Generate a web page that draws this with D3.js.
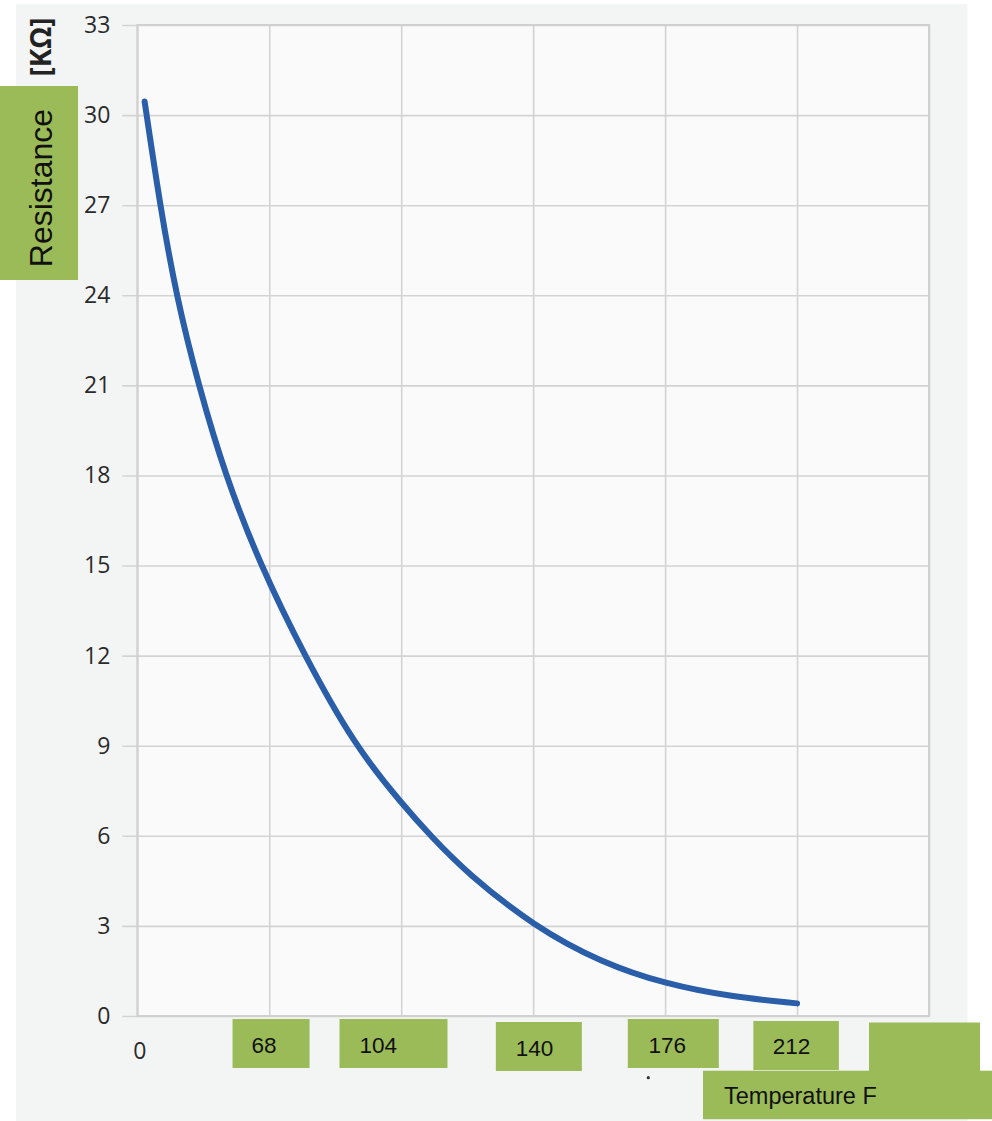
<!DOCTYPE html>
<html>
<head>
<meta charset="utf-8">
<script src="https://cdn.jsdelivr.net/npm/d3@7"></script>
<style>
  body { margin: 0; background: #ffffff; }
  svg { display: block; }
</style>
</head>
<body>
<svg id="drawing_region"></svg>
<script>
// thermistor curve (temperature in F, resistance in kOhm)
const temperatureF = [34.0, 38.2, 42.6, 48.7, 56.0, 65.6, 77.6, 91.3, 104.3, 112.0, 122.0, 140.3, 158.6, 176.2, 194.1, 212.0];
const resistance   = [30.45, 27.0, 24.0, 21.0, 18.0, 15.0, 12.0, 9.0, 7.05, 6.0, 4.75, 2.98, 1.78, 1.06, 0.64, 0.42];

const xTicks = [32, 68, 104, 140, 176, 212, 248];
const xBoxLabels = ["", "68", "104", "140", "176", "212", ""];
const yTicks = [0, 3, 6, 9, 12, 15, 18, 21, 24, 27, 30, 33];

const data = temperatureF.map((t, i) => ({ t: t, r: resistance[i] }));

const config = {
    width: 992,
    height: 1121,
    plot: { left: 137.3, right: 929, top: 25, bottom: 1016 }
};

const svg = d3.select('#drawing_region')
    .attr('width', config.width)
    .attr('height', config.height);

// panel background
svg.append('rect')
    .attr('x', 16).attr('y', 4)
    .attr('width', 951.5).attr('height', config.height - 4)
    .attr('fill', '#f3f5f5');

const p = config.plot;
svg.append('rect')
    .attr('x', p.left).attr('y', p.top)
    .attr('width', p.right - p.left).attr('height', p.bottom - p.top)
    .attr('fill', '#fafafa');

const xscale = d3.scaleLinear().domain([32, 248]).range([p.left, p.right]);
const yscale = d3.scaleLinear().domain([0, 33]).range([p.bottom, p.top]);

// y axis + horizontal grid
const yaxis = d3.axisLeft(yscale)
    .tickValues(yTicks)
    .tickSize(-(p.right - p.left + 15))
    .tickPadding(12);

const yaxis_group = svg.append('g')
    .attr('transform', `translate(${p.left - 15}, 0)`)
    .call(yaxis);
yaxis_group.select('.domain').remove();
yaxis_group.selectAll('line').attr('stroke', '#d3d3d3').attr('stroke-width', 1.6);
yaxis_group.selectAll('text')
    .attr('font-family', '"Open Sans", sans-serif')
    .attr('font-size', 23)
    .attr('fill', '#2a2a2a');

// x axis + vertical grid
const xaxis = d3.axisBottom(xscale)
    .tickValues(xTicks)
    .tickSize(-(p.bottom - p.top))
    .tickPadding(27)
    .tickFormat((d, i) => i === 0 ? '0' : '');

const xaxis_group = svg.append('g')
    .attr('transform', `translate(0, ${p.bottom})`)
    .call(xaxis);
xaxis_group.select('.domain').remove();
xaxis_group.selectAll('line').attr('stroke', '#d3d3d3').attr('stroke-width', 1.6);
xaxis_group.selectAll('text')
    .attr('font-family', '"Open Sans", sans-serif')
    .attr('font-size', 23)
    .attr('fill', '#2a2a2a')
    .attr('dx', 2);

// plot border
svg.append('rect')
    .attr('x', p.left).attr('y', p.top)
    .attr('width', p.right - p.left).attr('height', p.bottom - p.top)
    .attr('fill', 'none')
    .attr('stroke', '#d0d0d0')
    .attr('stroke-width', 2);

// curve
const line = d3.line()
    .x(d => xscale(d.t))
    .y(d => yscale(d.r))
    .curve(d3.curveBasis);

svg.append('path')
    .datum(data)
    .attr('d', line)
    .attr('fill', 'none')
    .attr('stroke', '#2a5ea8')
    .attr('stroke-width', 6)
    .attr('stroke-linecap', 'round')
    .attr('stroke-linejoin', 'round');

// y unit
svg.append('text')
    .attr('transform', 'translate(39.5, 47) rotate(-90)')
    .attr('text-anchor', 'middle')
    .attr('dominant-baseline', 'central')
    .attr('font-family', '"Open Sans", sans-serif')
    .attr('font-weight', 'bold')
    .attr('font-size', 28)
    .attr('fill', '#222')
    .text('[KΩ]');

// green overlay labels
const green = '#9bbb59';
svg.append('rect')
    .attr('x', 0).attr('y', 86)
    .attr('width', 78).attr('height', 194)
    .attr('fill', green);
svg.append('text')
    .attr('transform', 'translate(51.5, 188) rotate(-90)')
    .attr('text-anchor', 'middle')
    .attr('font-family', '"Liberation Sans", Arial, sans-serif')
    .attr('font-size', 32)
    .attr('fill', '#111')
    .text('Resistance');

// box offsets relative to each tick: [dx, y, width, height, text dx, text baseline]
const boxGeom = [
    null,
    [-36.7, 1019, 77, 49, -17.7, 1053],
    [-61.7, 1019, 108, 49, -41.7, 1053],
    [-37.3, 1022, 86, 49, -17.3, 1056],
    [-37.3, 1019, 91, 49, -16.6, 1053],
    [-43.7, 1021, 85.5, 49, -24.3, 1054],
    [-60, 1022.5, 111, 50, 0, 0]
];

xTicks.forEach((t, i) => {
    const g = boxGeom[i];
    if (!g) return;
    const cx = xscale(t);
    svg.append('rect')
        .attr('x', cx + g[0]).attr('y', g[1])
        .attr('width', g[2]).attr('height', g[3])
        .attr('fill', green);
    if (xBoxLabels[i]) {
        svg.append('text')
            .attr('x', cx + g[4]).attr('y', g[5])
            .attr('font-family', '"Liberation Sans", Arial, sans-serif')
            .attr('font-size', 22.5)
            .attr('fill', '#111')
            .text(xBoxLabels[i]);
    }
});

svg.append('rect')
    .attr('x', 703).attr('y', 1070.7)
    .attr('width', 289).attr('height', 48.5)
    .attr('fill', green);
svg.append('text')
    .attr('x', 724).attr('y', 1104)
    .attr('font-family', '"Liberation Sans", Arial, sans-serif')
    .attr('font-size', 23.5)
    .attr('fill', '#111')
    .text('Temperature F');

// stray dot under the axis
svg.append('circle')
    .attr('cx', 648.3).attr('cy', 1077.7)
    .attr('r', 1.6)
    .attr('fill', '#333');
</script>
</body>
</html>
